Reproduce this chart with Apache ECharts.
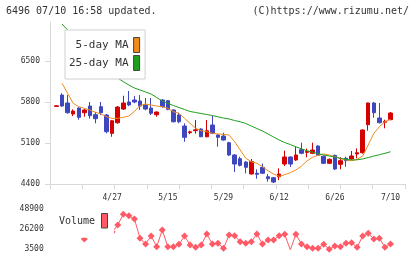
<!DOCTYPE html>
<html>
<head>
<meta charset="utf-8">
<script src="https://cdn.jsdelivr.net/npm/echarts@6.0.0/dist/echarts.min.js"></script>
<style>
  html, body { margin: 0; padding: 0; background: #fff; }
  #chart { width: 420px; height: 259px; }
</style>
</head>
<body>
<div id="chart"></div>
<script>
// trading days shown
const dates = [
  "4/13","4/14","4/15","4/16","4/17","4/20","4/21","4/22","4/23","4/24",
  "4/27","4/28","4/30","5/1","5/7","5/8","5/11","5/12","5/13","5/14",
  "5/15","5/18","5/19","5/20","5/21","5/22","5/25","5/26","5/27","5/28",
  "5/29","6/1","6/2","6/3","6/4","6/5","6/8","6/9","6/10","6/11",
  "6/12","6/15","6/16","6/17","6/18","6/19","6/22","6/23","6/24","6/25",
  "6/26","6/29","6/30","7/1","7/2","7/3","7/6","7/7","7/8","7/9","7/10"
];
const openV = [
  5725,5919,5783,5595,5697,5617,5731,5583,5720,5578,
  5265,5446,5680,5800,5834,5817,5749,5697,5583,5834,
  5822,5663,5578,5390,5276,5310,5339,5207,5407,5236,
  5219,5105,4895,4832,4775,4571,4583,4685,4524,4507,
  4524,4741,4861,4810,4986,4940,4924,5049,4873,4753,
  4890,4736,4839,4827,4912,4934,5412,5783,5527,5454,5498
];
const closeV = [
  5735,5731,5617,5646,5539,5663,5566,5515,5617,5293,
  5480,5714,5783,5749,5800,5731,5680,5607,5629,5720,
  5675,5463,5463,5197,5290,5325,5207,5310,5265,5197,
  5151,4895,4741,4719,4685,4781,4566,4583,4490,4434,
  4571,4861,4741,4895,4924,4955,4980,4890,4753,4822,
  4656,4798,4798,4878,4934,5322,5783,5617,5446,5470,5612
];
const lowV = [
  5720,5720,5600,5561,5498,5549,5515,5436,5578,5265,
  5207,5430,5663,5730,5780,5663,5660,5578,5549,5700,
  5660,5450,5436,5122,5250,5260,5200,5197,5250,5037,
  5140,4880,4605,4700,4583,4560,4490,4570,4439,4417,
  4468,4707,4690,4795,4910,4856,4910,4880,4740,4740,
  4639,4651,4695,4815,4839,4920,5310,5532,5435,5351,5490
];
const highV = [
  5740,5950,5919,5675,5710,5680,5800,5629,5800,5595,
  5490,5731,5907,5988,5902,5919,5868,5868,5640,5850,
  5834,5675,5617,5436,5310,5493,5350,5493,5561,5250,
  5276,5120,4910,4866,4790,4827,4651,4748,4571,4520,
  4668,4969,4870,5037,5105,5003,5105,5060,4885,4835,
  4900,4856,4866,4963,5009,5333,5790,5800,5783,5498,5629
];
const ma5 = [
  null,6119,5948,5777,5720,5692,5663,5624,5595,5549,
  5521,5521,5539,5561,5640,5740,5766,5749,5731,5720,
  5692,5634,5607,5521,5436,5351,5310,5293,5265,5254,
  5248,5236,5122,4980,4839,4781,4753,4696,4627,4571,
  4531,4559,4593,4639,4707,4793,4856,4890,4912,4895,
  4866,4832,4810,4798,4822,4878,5066,5265,5378,5463,5504
];
const ma25 = [
  null,7131,7029,6926,6824,6722,6619,6517,6431,6346,
  6278,6209,6148,6090,6039,6005,5971,5936,5877,5817,
  5778,5740,5706,5672,5638,5621,5603,5586,5569,5547,
  5527,5510,5484,5463,5433,5390,5347,5305,5254,5202,
  5151,5108,5074,5035,5001,4968,4943,4921,4895,4878,
  4861,4839,4822,4810,4813,4827,4852,4878,4900,4924,4951
];
const volume = [
  32000,28000,36000,30000,26000,15100,34000,40000,30000,38000,
  23000,30880,42930,41350,37640,15890,9470,18480,6430,25240,
  6430,6430,9130,18480,8340,5750,8340,20740,9470,10260,
  4630,19610,18820,12060,10260,12060,20740,9470,13980,13980,
  18820,20400,2800,20400,9470,6430,4630,4630,9130,3500,
  7220,6430,10260,10940,5750,18480,21530,15100,15890,5750,9470
];
const priceTicks = [4400, 5100, 5800, 6500];

const UP = "#d50000", DOWN = "#3f47bf";
const ORANGE = "#f08c1a", GREEN = "#1ea01e", VOL = "#ff5a66";
const AXIS = "#d8d8d8", TXT = "#333";
const MONO = "DejaVu Sans Mono";
const plain = (v) => String(v);

const chart = echarts.init(document.getElementById("chart"));

const option = {
  animation: false,
  backgroundColor: "#fff",
  title: [
    { text: "6496 07/10 16:58 updated.", left: 6, top: 6, padding: 0,
      textStyle: { fontFamily: MONO, fontSize: 10, fontWeight: "normal", color: TXT } },
    { text: "(C)https://www.rizumu.net/", right: 11, top: 6, padding: 0,
      textStyle: { fontFamily: MONO, fontSize: 10, fontWeight: "normal", color: TXT } }
  ],
  legend: {
    left: 65, top: 30,
    orient: "vertical", align: "right",
    itemWidth: 6, itemHeight: 15, itemGap: 2,
    padding: [7, 5, 8, 4],
    backgroundColor: "#fff", borderColor: "#d0d0d0", borderWidth: 1,
    textStyle: { fontFamily: MONO, fontSize: 11, color: TXT },
    data: [
      { name: "5-day MA", icon: "rect", itemStyle: { color: ORANGE, borderColor: "#444", borderWidth: 1 } },
      { name: "25-day MA", icon: "rect", itemStyle: { color: GREEN, borderColor: "#444", borderWidth: 1 } }
    ]
  },
  grid: [
    // frame (axis lines / ticks)
    { left: 50, right: 15, top: 22, height: 162 },
    // candles
    { left: 53.7, width: 339.6, top: 22, height: 162 },
    // volume
    { left: 53.7, width: 339.6, top: 209, height: 40.3 }
  ],
  xAxis: [
    { gridIndex: 0, type: "value", min: 0, max: 11, interval: 1,
      axisLine: { lineStyle: { color: AXIS } },
      axisTick: { length: 5, lineStyle: { color: AXIS } },
      axisLabel: { show: false }, splitLine: { show: false } },
    { gridIndex: 1, type: "category", data: dates,
      axisLine: { show: false }, axisTick: { show: false },
      axisLabel: {
        interval: (i) => i > 0 && i % 10 === 0,
        margin: 10, fontFamily: MONO, fontSize: 8, color: TXT
      } },
    { gridIndex: 2, type: "category", data: dates, show: false }
  ],
  yAxis: [
    { gridIndex: 0, type: "value", min: 4400, max: 7166,
      axisLine: { show: true, lineStyle: { color: AXIS } },
      axisTick: { show: true, length: 5, customValues: priceTicks, lineStyle: { color: AXIS } },
      axisLabel: { customValues: priceTicks, formatter: plain, margin: 10, fontFamily: MONO, fontSize: 8, color: TXT },
      splitLine: { show: false } },
    { gridIndex: 1, type: "value", min: 4400, max: 7166, show: false },
    { gridIndex: 2, type: "value", min: 3500, max: 48900, interval: 22700,
      axisLine: { show: false }, axisTick: { show: false }, splitLine: { show: false },
      axisLabel: { formatter: plain, margin: 10, fontFamily: MONO, fontSize: 8, color: TXT } }
  ],
  series: [
    {
      name: "price", type: "candlestick", xAxisIndex: 1, yAxisIndex: 1,
      barWidth: 4,
      itemStyle: { color: UP, color0: DOWN, borderColor: UP, borderColor0: DOWN, borderWidth: 1 },
      data: dates.map((d, i) => [openV[i], closeV[i], lowV[i], highV[i]])
    },
    {
      name: "5-day MA", type: "line", xAxisIndex: 1, yAxisIndex: 1,
      data: ma5, symbol: "none",
      lineStyle: { color: ORANGE, width: 1 }, itemStyle: { color: ORANGE }
    },
    {
      name: "25-day MA", type: "line", xAxisIndex: 1, yAxisIndex: 1,
      data: ma25, symbol: "none",
      lineStyle: { color: GREEN, width: 1 }, itemStyle: { color: GREEN }
    },
    {
      name: "Volume", type: "line", xAxisIndex: 2, yAxisIndex: 2,
      data: volume, symbol: "diamond", symbolSize: 7, showAllSymbol: true,
      lineStyle: { color: VOL, width: 1 }, itemStyle: { color: VOL }
    }
  ],
  graphic: [
    // volume label sits on a white patch over the first days
    { type: "rect", z: 100, shape: { x: 47, y: 203, width: 67, height: 34.7 }, style: { fill: "#fff" } },
    { type: "text", z: 101, left: 59, top: 216,
      style: { text: "Volume", font: "10px 'DejaVu Sans Mono'", fill: TXT } },
    { type: "rect", z: 101, shape: { x: 101.5, y: 213.5, width: 6, height: 14.5 },
      style: { fill: VOL, stroke: "#444", lineWidth: 1 } }
  ]
};

chart.setOption(option);
</script>
</body>
</html>
